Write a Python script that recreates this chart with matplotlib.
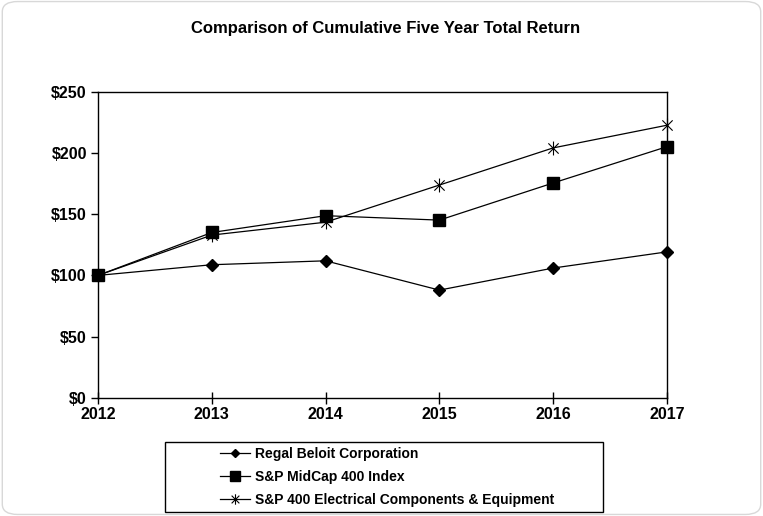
import matplotlib
matplotlib.use("Agg")
import matplotlib.pyplot as plt
from matplotlib.path import Path
from matplotlib.patches import Rectangle, FancyBboxPatch

years = ["2012", "2013", "2014", "2015", "2016", "2017"]
regal = [100, 108.7, 111.9, 88.0, 106.0, 119.2]
midcap = [100, 135.0, 148.7, 145.1, 175.4, 205.0]
electrical = [100, 132.9, 143.4, 173.7, 204.0, 222.5]
yticks = [0, 50, 100, 150, 200, 250]
ylabels = ["\\$0", "\\$50", "\\$100", "\\$150", "\\$200", "\\$250"]
names = ["Regal Beloit Corporation", "S&P MidCap 400 Index",
         "S&P 400 Electrical Components & Equipment"]

plt.rcParams['font.family'] = ['Liberation Sans', 'DejaVu Sans']
plt.rcParams['font.weight'] = 'bold'

star = Path([(-1, -1), (1, 1), (-1, 1), (1, -1), (0, -1.35), (0, 1.35)],
            [Path.MOVETO, Path.LINETO, Path.MOVETO, Path.LINETO, Path.MOVETO, Path.LINETO])

fig = plt.figure(figsize=(7.63, 5.16), dpi=100)
ax = fig.add_axes([98/763, 1-398/516, (667-98)/763, (398-91.5)/516])
x = list(range(len(years)))
ax.plot(x, regal, color='black', lw=0.9, marker='D', ms=6, label=names[0])
ax.plot(x, midcap, color='black', lw=0.9, marker='s', ms=9, label=names[1])
ax.plot(x, electrical, color='black', lw=0.9, marker=star, ms=10, mew=0.8,
        label=names[2], zorder=1)

ax.set_xlim(0, 5)
ax.set_ylim(0, 250)
ax.set_xticks(x)
ax.set_xticklabels(years, fontsize=11.5, fontweight='bold')
ax.set_yticks(yticks)
ax.set_yticklabels(ylabels, fontsize=11.5, fontweight='bold')
ax.tick_params(axis='x', direction='inout', length=9, width=1, pad=2)
ax.tick_params(axis='y', direction='out', length=5, width=1, pad=3)
for s in ax.spines.values():
    s.set_linewidth(1)
for ln in ax.lines:
    ln.set_clip_on(False)

fig.text(386/763, 1-29/516, "Comparison of Cumulative Five Year Total Return",
         ha='center', va='center', fontsize=12, fontweight='bold')

fig.patches.append(Rectangle((165/763, 4/516), 438/763, 70/516,
                             transform=fig.transFigure, fill=False,
                             edgecolor='black', lw=1))
leg = fig.legend(loc='upper left', bbox_to_anchor=(214/763, 1-441/516),
                 frameon=False, fontsize=10, handlelength=2.2, markerscale=0.75,
                 handletextpad=0.35, labelspacing=0.66, borderaxespad=0)
for t in leg.get_texts():
    t.set_fontweight('bold')

fig.patches.append(FancyBboxPatch((0.003, 0.003), 0.994, 0.994,
                                  boxstyle="round,pad=0,rounding_size=0.02",
                                  transform=fig.transFigure, fill=False,
                                  edgecolor='#d8d8d8', lw=1))

fig.savefig("out.png", dpi=100)
